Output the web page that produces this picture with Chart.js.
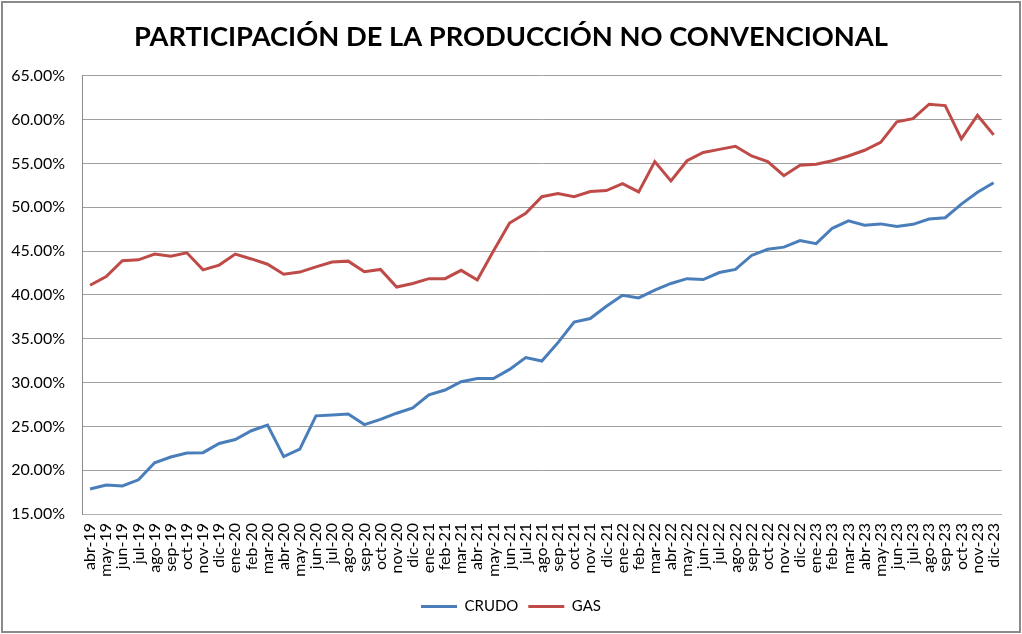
<!DOCTYPE html>
<html>
<head>
<meta charset="utf-8">
<script src="https://cdn.jsdelivr.net/npm/chart.js@4.4.0/dist/chart.umd.min.js"></script>
<style>
  html, body { margin: 0; padding: 0; background: #fff; }
  #wrap { position: relative; width: 1022px; height: 634px; }
  canvas { display: block; }
</style>
</head>
<body>
<div id="wrap"><canvas id="c" width="1022" height="634"></canvas></div>
<script>
const months = ['abr-19','may-19','jun-19','jul-19','ago-19','sep-19','oct-19','nov-19','dic-19',
  'ene-20','feb-20','mar-20','abr-20','may-20','jun-20','jul-20','ago-20','sep-20','oct-20','nov-20','dic-20',
  'ene-21','feb-21','mar-21','abr-21','may-21','jun-21','jul-21','ago-21','sep-21','oct-21','nov-21','dic-21',
  'ene-22','feb-22','mar-22','abr-22','may-22','jun-22','jul-22','ago-22','sep-22','oct-22','nov-22','dic-22',
  'ene-23','feb-23','mar-23','abr-23','may-23','jun-23','jul-23','ago-23','sep-23','oct-23','nov-23','dic-23'];

const crudo = [17.85,18.3,18.2,18.9,20.85,21.5,21.95,22.0,23.05,
  23.5,24.5,25.15,21.55,22.4,26.2,26.3,26.4,25.2,25.8,26.5,27.1,
  28.6,29.15,30.1,30.45,30.45,31.5,32.85,32.45,34.55,36.9,37.3,38.7,
  39.95,39.65,40.55,41.3,41.85,41.75,42.55,42.9,44.5,45.2,45.45,46.2,
  45.85,47.6,48.45,47.95,48.1,47.8,48.05,48.65,48.8,50.35,51.7,52.8];

const gas = [41.1,42.1,43.9,44.0,44.65,44.4,44.8,42.85,43.4,
  44.65,44.1,43.5,42.35,42.6,43.2,43.75,43.85,42.65,42.9,40.9,41.3,
  41.85,41.85,42.8,41.7,45.0,48.2,49.3,51.2,51.55,51.2,51.8,51.9,
  52.7,51.75,55.2,53.0,55.3,56.25,56.6,56.95,55.85,55.2,53.6,54.8,
  54.9,55.3,55.85,56.5,57.4,59.75,60.1,61.75,61.6,57.8,60.5,58.25];

const yTicks = { min: 15, max: 65, step: 5 };
const titleText = 'PARTICIPACIÓN DE LA PRODUCCIÓN NO CONVENCIONAL';

const frame = {
  id: 'frame',
  afterDraw(chart) {
    const ctx = chart.ctx;
    ctx.save();
    ctx.strokeStyle = '#8a8a8a';
    ctx.lineWidth = 2;
    ctx.strokeRect(2, 2, chart.width - 4, chart.height - 4);
    ctx.restore();
  }
};

new Chart(document.getElementById('c'), {
  type: 'line',
  data: {
    labels: months,
    datasets: [
      { label: 'CRUDO', data: crudo, borderColor: '#4a7ebb', backgroundColor: '#4a7ebb',
        borderWidth: 3, pointRadius: 0, tension: 0, fill: false },
      { label: 'GAS', data: gas, borderColor: '#be4b48', backgroundColor: '#be4b48',
        borderWidth: 3, pointRadius: 0, tension: 0, fill: false }
    ]
  },
  options: {
    responsive: false,
    animation: false,
    devicePixelRatio: 1,
    layout: { padding: { left: 0, right: 0, top: 0, bottom: 10 } },
    plugins: {
      title: {
        display: true, text: titleText, color: '#000',
        font: { family: 'Lato', size: 27.3, weight: 'bold' },
        padding: { top: 21, bottom: 22 }
      },
      legend: {
        position: 'bottom',
        labels: {
          color: '#000',
          font: { family: 'Lato', size: 15 },
          usePointStyle: true, pointStyle: 'line', pointStyleWidth: 36,
          padding: 10
        }
      },
      tooltip: { enabled: false }
    },
    scales: {
      x: {
        offset: true,
        grid: { display: false, drawTicks: false },
        border: { display: true, color: '#b0b0b0', width: 1 },
        ticks: {
          autoSkip: false, minRotation: 90, maxRotation: 90,
          color: '#000', padding: 9,
          font: { family: 'Lato', size: 16 }
        },
        afterFit(scale) { scale.height = 75; }
      },
      y: {
        min: yTicks.min, max: yTicks.max,
        grid: { color: '#a0a0a0', lineWidth: 1, drawTicks: false },
        border: { display: true, color: '#8a8a8a', width: 1 },
        ticks: {
          stepSize: yTicks.step, color: '#000', padding: 17,
          font: { family: 'Lato', size: 16 },
          callback: v => v.toFixed(2) + '%'
        },
        afterFit(scale) { scale.width = 82; }
      },
      yRight: {
        position: 'right', display: true,
        grid: { display: false, drawTicks: false },
        border: { display: false },
        ticks: { display: false },
        afterFit(scale) { scale.width = 20; }
      }
    }
  },
  plugins: [frame]
});
</script>
</body>
</html>
